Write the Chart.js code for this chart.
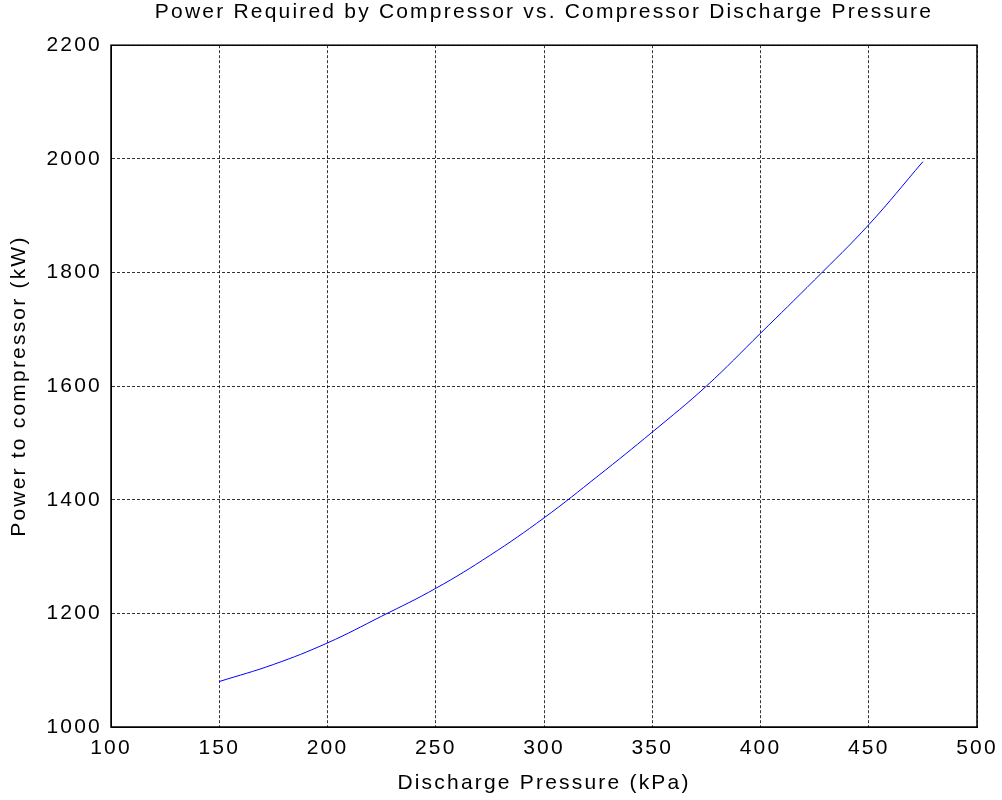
<!DOCTYPE html>
<html>
<head>
<meta charset="utf-8">
<script src="https://cdn.jsdelivr.net/npm/chart.js@4"></script>
<style>
  body { margin: 0; background: #fff; }
  #wrap { width: 1002px; height: 800px; }
</style>
</head>
<body>
<div id="wrap"><canvas id="powerChart" width="1002" height="800"></canvas></div>
<script>
// discharge pressure (kPa) and compressor power (kW)
let pressures = [150, 175, 200, 225, 250, 275, 300, 325, 350, 375, 400, 425, 450, 475];
let powers = [1080, 1110, 1148, 1195, 1244, 1302, 1368, 1442, 1519, 1600, 1693, 1787, 1884, 1995];

let x_ticks = [100, 150, 200, 250, 300, 350, 400, 450, 500];
let y_ticks = [1000, 1200, 1400, 1600, 1800, 2000, 2200];

let points = pressures.map((p, i) => ({ x: p, y: powers[i] }));

const labelFont = { family: "'Liberation Sans', Arial, sans-serif", size: 21 };
const gridStyle = { color: "rgba(0,0,0,0.8)", lineWidth: 1, drawTicks: false };

// matlab-ish look: spaced letters and a closed box round the axes
const matlabLook = {
  id: "matlabLook",
  beforeLayout(chart) { chart.ctx.letterSpacing = "2.2px"; },
  beforeDraw(chart) { chart.ctx.letterSpacing = "2.2px"; },
  afterDraw(chart) {
    const a = chart.chartArea;
    const ctx = chart.ctx;
    ctx.save();
    ctx.strokeStyle = "#000";
    ctx.lineWidth = 1.5;
    ctx.strokeRect(a.left, a.top, a.right - a.left, a.bottom - a.top);
    ctx.restore();
  }
};

new Chart("powerChart", {
  type: "line",
  data: {
    datasets: [{
      data: points,
      borderColor: "#0000ff",
      borderWidth: 1,
      pointRadius: 0,
      tension: 0.4,
      fill: false
    }]
  },
  options: {
    responsive: false,
    animation: false,
    layout: { padding: { left: 0, right: 25, top: 0, bottom: 0 } },
    plugins: {
      legend: { display: false },
      tooltip: { enabled: false },
      title: {
        display: true,
        fullSize: false,
        text: "Power Required by Compressor vs. Compressor Discharge Pressure",
        color: "#000",
        font: { family: labelFont.family, size: 21, weight: "normal" },
        padding: { top: 0, bottom: 20 }
      }
    },
    scales: {
      x: {
        type: "linear",
        min: 100,
        max: 500,
        afterBuildTicks: (s) => { s.ticks = x_ticks.map(v => ({ value: v })); },
        afterFit: (s) => { s.height = 73; s.paddingRight = 0; s.paddingLeft = 0; },
        grid: gridStyle,
        border: { display: true, color: "#000", dash: [3, 2] },
        ticks: { color: "#000", font: labelFont, padding: 9, callback: (v) => String(v) },
        title: {
          display: true,
          text: "Discharge Pressure (kPa)",
          color: "#000",
          font: labelFont,
          padding: { top: 0, bottom: 4 }
        }
      },
      y: {
        type: "linear",
        min: 1000,
        max: 2200,
        afterBuildTicks: (s) => { s.ticks = y_ticks.map(v => ({ value: v })); },
        afterFit: (s) => { s.width = 111; s.paddingTop = 0; s.paddingBottom = 0; },
        grid: gridStyle,
        border: { display: true, color: "#000", dash: [3, 2] },
        ticks: { color: "#000", font: labelFont, padding: 9, callback: (v) => String(v) },
        title: {
          display: true,
          text: "Power to compressor (kW)",
          color: "#000",
          font: labelFont,
          padding: { top: 7, bottom: 0 }
        }
      }
    }
  },
  plugins: [matlabLook]
});
</script>
</body>
</html>
